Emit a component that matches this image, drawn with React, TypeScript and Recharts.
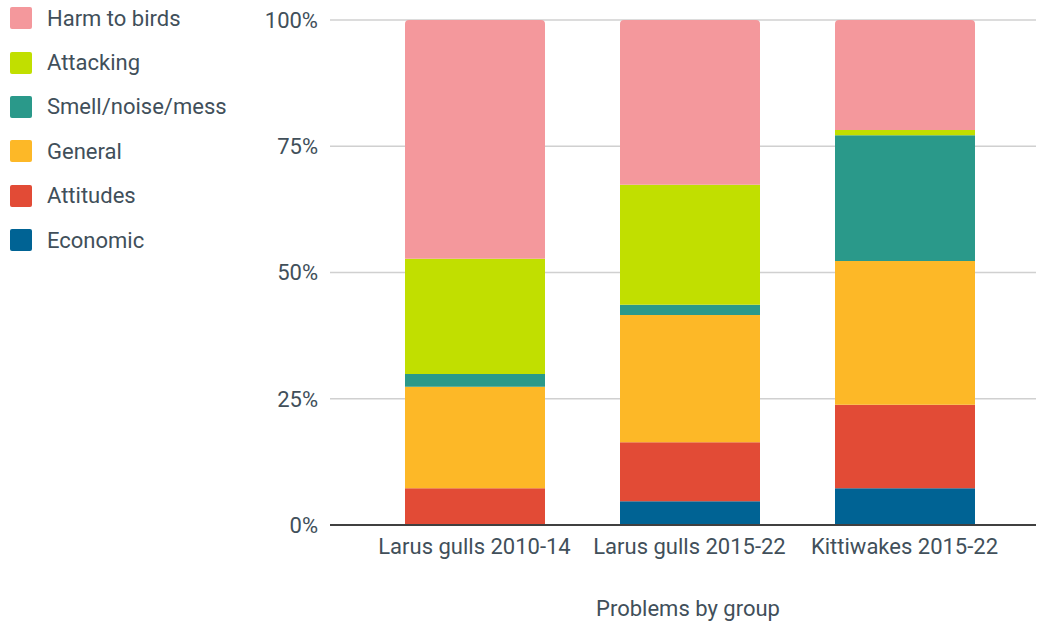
import React from 'react';
import { BarChart, Bar, XAxis, YAxis, CartesianGrid, Label } from 'recharts';

document.body.style.margin = '0';

const groups = ['Larus gulls 2010-14', 'Larus gulls 2015-22', 'Kittiwakes 2015-22'];
const economic = [0, 4.7, 7.3];
const attitudes = [7.3, 11.7, 16.5];
const general = [20.1, 25.2, 28.5];
const smell = [2.5, 2.0, 24.9];
const attacking = [22.8, 23.8, 1.0];
const harm = [47.3, 32.6, 21.8];
const yTicks = [0, 25, 50, 75, 100];

const series = [
  { key: 'economic', name: 'Economic', color: '#006394', values: economic },
  { key: 'attitudes', name: 'Attitudes', color: '#e24b36', values: attitudes },
  { key: 'general', name: 'General', color: '#fdb827', values: general },
  { key: 'smell', name: 'Smell/noise/mess', color: '#2a998a', values: smell },
  { key: 'attacking', name: 'Attacking', color: '#c1df00', values: attacking },
  { key: 'harm', name: 'Harm to birds', color: '#f4989c', values: harm },
];

const data = groups.map((g, i) => {
  const row: Record<string, string | number> = { group: g };
  series.forEach((s) => {
    row[s.key] = s.values[i];
  });
  return row;
});

const textColor = '#414f5a';
const font = 'Roboto, Arial, sans-serif';

const Legend = () => (
  <div style={{ position: 'absolute', left: 10, top: -4, fontFamily: font, fontSize: 22, color: textColor }}>
    {[...series].reverse().map((s) => (
      <div key={s.key} style={{ display: 'flex', alignItems: 'center', height: 44.4 }}>
        <div style={{ width: 22, height: 22, borderRadius: 2, background: s.color, marginRight: 15 }} />
        <span>{s.name}</span>
      </div>
    ))}
  </div>
);

const App: React.FC = () => {
  return (
    <div style={{ position: 'relative', width: 1038, height: 624 }}>
      <Legend />
      <BarChart
        width={1038}
        height={624}
        data={data}
        margin={{ top: 20, right: 2, left: 250, bottom: 0 }}
        barSize={140}
      >
        <CartesianGrid vertical={false} stroke="#d0d0d0" strokeWidth={1.5} />
        <XAxis
          dataKey="group"
          height={99}
          padding={{ left: 37, right: 24 }}
          tickLine={false}
          axisLine={{ stroke: '#404040', strokeWidth: 2 }}
          tick={{ fill: textColor, fontSize: 22, fontFamily: font }}
          tickMargin={7}
        >
          <Label
            content={({ viewBox }: any) => (
              <text
                x={viewBox.x + viewBox.width / 2 + 5}
                y={viewBox.y + viewBox.height - 8}
                textAnchor="middle"
                fill={textColor}
                fontSize={22}
                fontFamily={font}
              >
                Problems by group
              </text>
            )}
          />
        </XAxis>
        <YAxis
          width={80}
          domain={[0, 100]}
          ticks={yTicks}
          tickFormatter={(v: number) => `${v}%`}
          axisLine={false}
          tickLine={false}
          tickMargin={6}
          tick={{ fill: textColor, fontSize: 22, fontFamily: font }}
        />
        {series.map((s) => (
          <Bar
            key={s.key}
            dataKey={s.key}
            name={s.name}
            stackId="a"
            fill={s.color}
            isAnimationActive={false}
            radius={s.key === 'harm' ? [4, 4, 0, 0] : undefined}
          />
        ))}
      </BarChart>
    </div>
  );
};

export default App;
